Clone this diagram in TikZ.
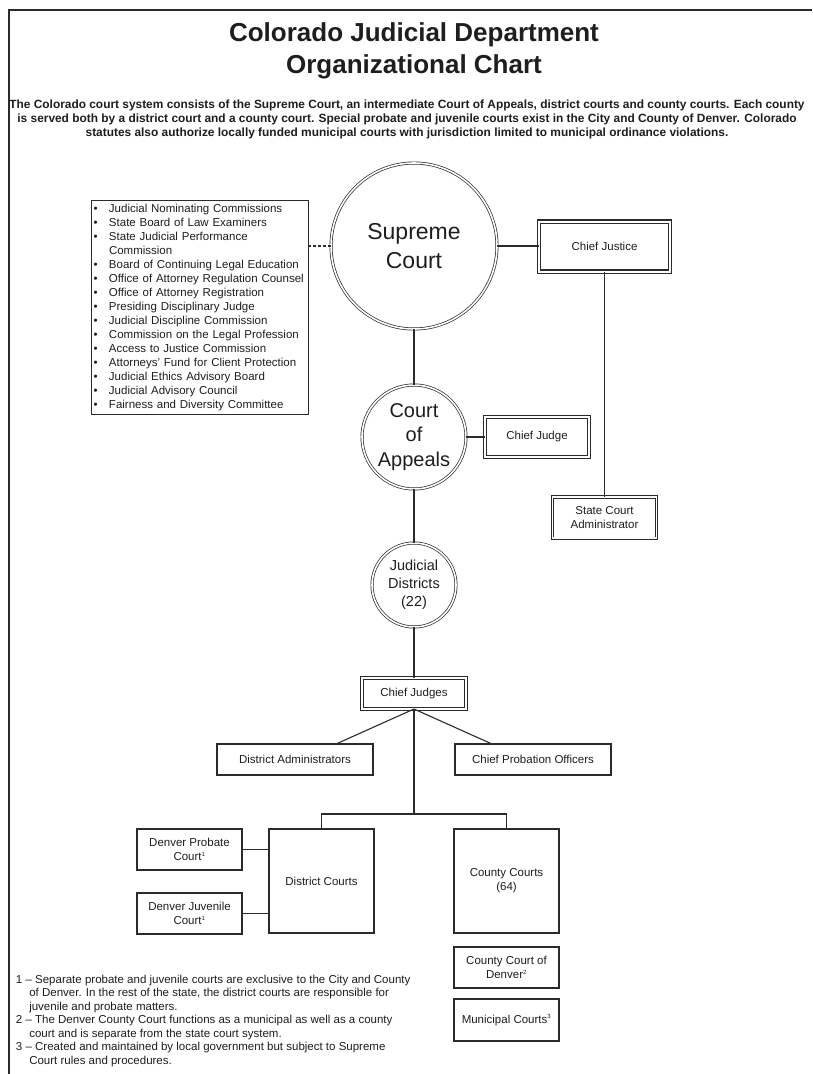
\documentclass[tikz,border=0pt]{standalone}
\usepackage{fontspec}
\setmainfont{Liberation Sans}
\usetikzlibrary{calc}
\definecolor{ln}{HTML}{2B2B2B}
\definecolor{tx}{HTML}{1E1E1E}
\tikzset{
  every node/.style={text=tx, inner sep=0pt, outer sep=0pt},
  conn/.style={draw=ln, line width=1.1pt},
  sbox/.style={draw=ln, line width=1.3pt, fill=white, align=center, font=\fontsize{11.5}{14}\selectfont},
  dbox/.style={draw=ln, double=white, double distance=1.8pt, line width=0.9pt, align=center, font=\fontsize{11.5}{14}\selectfont},
  dboxb/.style={dbox, line width=1.4pt},
  dcirc/.style={circle, draw=ln, double=white, double distance=1.6pt, line width=0.7pt, align=center},
  listbox/.style={draw=ln, line width=1pt, text width=213pt, inner xsep=2pt, minimum height=213.3pt, font=\fontsize{11.5}{14}\selectfont},
  notes/.style={align=left, font=\fontsize{11.5}{13.5}\selectfont},
}
\newcommand{\sups}[1]{\textsuperscript{\fontsize{6}{6}\selectfont #1}}
\newcommand{\bul}{\makebox[15.3pt][l]{\textbullet}}
\begin{document}
\begin{tikzpicture}[x=1pt,y=-1pt]
\useasboundingbox (0,0) rectangle (812,1074);
\fill[white] (0,0) rectangle (812,1074);
\draw[ln, line width=2.6pt, line join=miter] (9,1074) -- (9,10) -- (812,10);

% title and description
\node[font=\bfseries\fontsize{26}{31.6}\selectfont, align=center] (title) at (414,50.8) {Colorado Judicial Department\\Organizational Chart};
\node[font=\bfseries\fontsize{11.9}{14}\selectfont, align=center] (desc) at (407,119) {The Colorado court system consists of the Supreme Court, an intermediate Court of Appeals, district courts and county courts. Each county\\is served both by a district court and a county court. Special probate and juvenile courts exist in the City and County of Denver. Colorado\\statutes also authorize locally funded municipal courts with jurisdiction limited to municipal ordinance violations.};

% bullet list
\node[listbox, anchor=north west] (blist) at (91.7,200.7) {%
\bul Judicial Nominating Commissions\\
\bul State Board of Law Examiners\\
\bul State Judicial Performance\\
\hspace*{15.3pt}Commission\\
\bul Board of Continuing Legal Education\\
\bul Office of Attorney Regulation Counsel\\
\bul Office of Attorney Registration\\
\bul Presiding Disciplinary Judge\\
\bul Judicial Discipline Commission\\
\bul Commission on the Legal Profession\\
\bul Access to Justice Commission\\
\bul Attorneys' Fund for Client Protection\\
\bul Judicial Ethics Advisory Board\\
\bul Judicial Advisory Council\\
\bul Fairness and Diversity Committee};

% circles
\node[dcirc, minimum size=166pt, font=\fontsize{23}{28.5}\selectfont] (sc) at (414,246) {Supreme\\Court};
\node[dcirc, minimum size=104pt, font=\fontsize{20}{24.5}\selectfont] (coa) at (414,437) {Court\\of\\Appeals};
\node[dcirc, minimum size=84pt, font=\fontsize{14.5}{17.8}\selectfont] (jd) at (414,585) {Judicial\\Districts\\(22)};

% double boxes
\node[dboxb, minimum width=131pt, minimum height=50pt] (cj) at (604.5,246.7) {Chief Justice};
\node[dbox, minimum width=104pt, minimum height=40pt] (cjg) at (537,436.7) {Chief Judge};
\node[dbox, minimum width=104pt, minimum height=41.6pt] (sca) at (604.5,517.5) {State Court\\Administrator};
\node[dbox, minimum width=104pt, minimum height=31pt] (cjs) at (414,693.5) {Chief Judges};

% single boxes
\node[sbox, minimum width=156pt, minimum height=31pt] (da) at (295,759.5) {District Administrators};
\node[sbox, minimum width=156pt, minimum height=31pt] (cpo) at (533,759.5) {Chief Probation Officers};
\node[sbox, minimum width=105pt, minimum height=104pt] (dc) at (321.5,881) {District Courts};
\node[sbox, minimum width=105pt, minimum height=104pt] (cc) at (506.5,881) {County Courts\\(64)};
\node[sbox, minimum width=105pt, minimum height=41pt] (dp) at (189.5,849.5) {Denver Probate\\Court\sups{1}};
\node[sbox, minimum width=105pt, minimum height=41pt] (dj) at (189.5,913.5) {Denver Juvenile\\Court\sups{1}};
\node[sbox, minimum width=105pt, minimum height=41pt] (ccd) at (506.5,967.5) {County Court of\\Denver\sups{2}};
\node[sbox, minimum width=105pt, minimum height=42pt] (mc) at (506.5,1020) {Municipal Courts\sups{3}};

% connectors
\draw[conn, dashed, dash pattern=on 3pt off 2pt] (sc.west) -- (sc.west -| blist.east);
\draw[conn] (sc.east) -- (sc.east -| cj.west);
\draw[conn] (sc.south) -- (coa.north);
\draw[conn] (coa.east) -- (coa.east -| cjg.west);
\draw[conn] (cj.south) -- (sca.north);
\draw[conn] (coa.south) -- (jd.north);
\draw[conn] (jd.south) -- (cjs.north);
\draw[conn] (cjs.south) -- ([xshift=41pt]da.north);
\draw[conn] (cjs.south) -- ([xshift=-41pt]cpo.north);
\coordinate (bus) at (414,814);
\draw[conn] (cjs.south) -- (bus);
\draw[conn] (dc.north) |- (bus) -| (cc.north);
\draw[conn] (dp.east) -- (dp.east -| dc.west);
\draw[conn] (dj.east) -- (dj.east -| dc.west);

% footnotes
\node[notes, anchor=north west] (fn) at (16,975) {%
1 -- Separate probate and juvenile courts are exclusive to the City and County\\
\hspace*{13.3pt}of Denver. In the rest of the state, the district courts are responsible for\\
\hspace*{13.3pt}juvenile and probate matters.\\
2 -- The Denver County Court functions as a municipal as well as a county\\
\hspace*{13.3pt}court and is separate from the state court system.\\
3 -- Created and maintained by local government but subject to Supreme\\
\hspace*{13.3pt}Court rules and procedures.};
\end{tikzpicture}
\end{document}
